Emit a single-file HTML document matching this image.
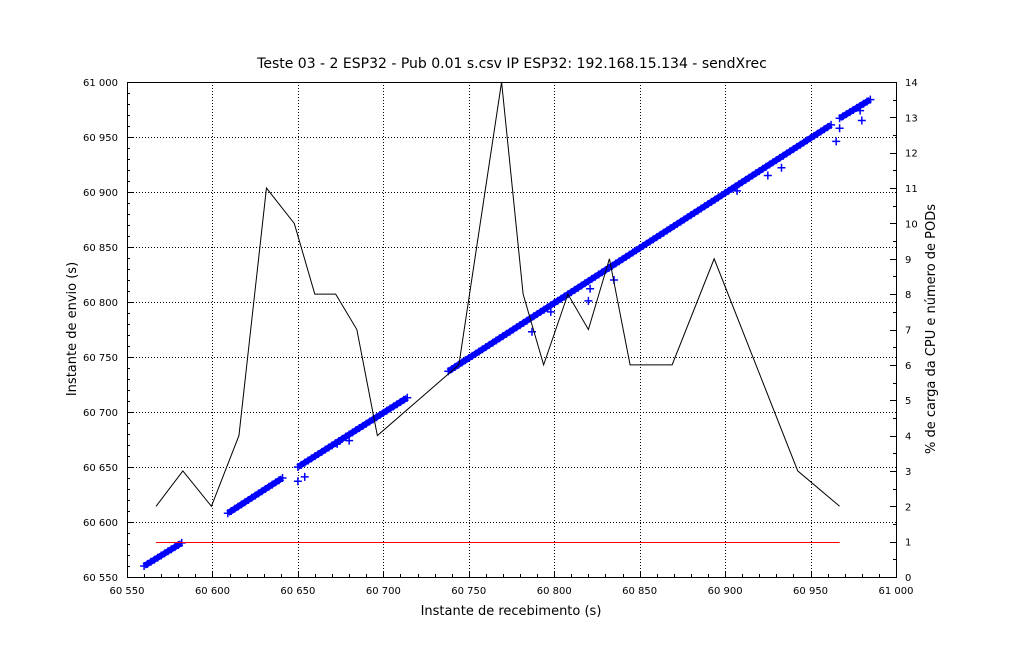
<!DOCTYPE html>
<html><head><meta charset="utf-8"><style>
body{margin:0;background:#fff;}
svg{display:block;font-family:"DejaVu Sans","Liberation Sans",sans-serif;}
</style></head><body>
<svg id="c" width="1024" height="660"></svg>
<script>
const xTicks=[60550,60600,60650,60700,60750,60800,60850,60900,60950,61000];
const xTickLabels=["60 550","60 600","60 650","60 700","60 750","60 800","60 850","60 900","60 950","61 000"];
const yTicks=[60550,60600,60650,60700,60750,60800,60850,60900,60950,61000];
const yTickLabels=["60 550","60 600","60 650","60 700","60 750","60 800","60 850","60 900","60 950","61 000"];
const y2Ticks=[0,1,2,3,4,5,6,7,8,9,10,11,12,13,14];
// blue send/receive segments
const segRecvStart=[60560,60609,60650,60738,60967];
const segSendStart=[60560,60608,60650,60737,60967];
const segRecvEnd=[60582,60641,60714,60962,60985];
const segSendEnd=[60581,60640,60713,60961,60984];
const outRecv=[60650,60654,60673,60680,60787,60798,60820,60821,60835,60907,60925,60933,60965,60967,60980,60979];
const outSend=[60637,60641,60671,60674,60773,60791,60801,60812,60820,60901,60915,60922,60946,60958,60965,60974];
// CPU line
const cpuX=[60567,60582.7,60599.4,60615.5,60631.6,60647.9,60659.9,60672.1,60684.5,60696.5,60744.2,60769.2,60781.8,60793.8,60808,60820,60832.3,60844.4,60869,60893.6,60942.5,60967];
const cpuY=[2,3,2,4,11,10,8,8,7,4,6,14,8,6,8,7,9,6,6,9,3,2];
// PODs line
const podX=[60567,60967];
const podY=[1,1];

const L=127,R=896,T=82,B=577;
const sx=v=>L+(v-60550)/(450)*(R-L);
const sy=v=>B-(v-60550)/450*(B-T);
const sy2=v=>B-v/14*(B-T);
const svg=document.getElementById('c');
const NS='http://www.w3.org/2000/svg';
function mk(tag,attrs,parent){const e=document.createElementNS(NS,tag);for(const k in attrs)e.setAttribute(k,attrs[k]);(parent||svg).appendChild(e);return e;}

xTicks.forEach((v,i)=>{if(i>0&&i<xTicks.length-1){const g=mk('line',{x1:Math.round(sx(v))+0.5,x2:Math.round(sx(v))+0.5,y1:T,y2:B,stroke:'#000','stroke-width':1,'stroke-dasharray':'1,2'});

}});
yTicks.forEach((v,i)=>{if(i>0&&i<yTicks.length-1){const g=mk('line',{x1:L,x2:R,y1:Math.round(sy(v))+0.5,y2:Math.round(sy(v))+0.5,stroke:'#000','stroke-width':1,'stroke-dasharray':'1,2'});

}});
const fr=mk('rect',{x:L+0.5,y:T+0.5,width:R-L,height:B-T,fill:'none',stroke:'#000','stroke-width':1});



for(let v=60550;v<=61000;v+=10){const maj=(v%50===0);const px=Math.round(sx(v))+0.5;mk('line',{x1:px,x2:px,y1:B,y2:B-(maj?6:3),stroke:'#000'});}
xTicks.forEach((v,i)=>{const t=mk('text',{x:sx(v),y:B+17,'font-size':10,'text-anchor':'middle'});t.textContent=xTickLabels[i];

});
for(let v=60550;v<=61000;v+=10){const maj=(v%50===0);const py=Math.round(sy(v))+0.5;mk('line',{x1:L,x2:L+(maj?6:3),y1:py,y2:py,stroke:'#000'});}
yTicks.forEach((v,i)=>{const t=mk('text',{x:L-9,y:sy(v)+4,'font-size':10,'text-anchor':'end'});t.textContent=yTickLabels[i];

});
for(let v=0;v<=14;v+=0.5){const maj=(v%1===0);const py=Math.round(sy2(v))+0.5;mk('line',{x1:R,x2:R-(maj?6:3),y1:py,y2:py,stroke:'#000'});}
y2Ticks.forEach(v=>{const t=mk('text',{x:R+9,y:sy2(v)+4,'font-size':10});t.textContent=v;

});

const blue=mk('g',{});


segRecvStart.forEach((x0,i)=>{
  const x1=sx(x0),y1=sy(segSendStart[i]),x2=sx(segRecvEnd[i]),y2=sy(segSendEnd[i]);
  const l=mk('line',{x1:x1,y1:y1,x2:x2,y2:y2,stroke:'#0000ff','stroke-width':6},blue);
  
  
  const n=Math.max(2,Math.round((segRecvEnd[i]-x0)/2));
  for(let k=0;k<=n;k++){const cx=x1+(x2-x1)*k/n,cy=y1+(y2-y1)*k/n;
    mk('path',{d:`M${cx-4},${cy}h8M${cx},${cy-4}v8`,stroke:'#0000ff','stroke-width':1.5},blue);}
});
outRecv.forEach((x,i)=>{const cx=sx(x),cy=sy(outSend[i]);
  const p=mk('path',{d:`M${cx-4},${cy}h8M${cx},${cy-4}v8`,stroke:'#0000ff','stroke-width':1.5},blue);
  
  });

const cpu=mk('polyline',{points:cpuX.map((x,i)=>sx(x)+','+sy2(cpuY[i])).join(' '),fill:'none',stroke:'#000','stroke-width':1});


const pod=mk('polyline',{points:podX.map((x,i)=>sx(x)+','+(Math.round(sy2(podY[i]))+0.5)).join(' '),fill:'none',stroke:'#ff0000','stroke-width':1});



const tt=mk('text',{x:512,y:68,'font-size':14,'text-anchor':'middle'});tt.textContent='Teste 03 - 2 ESP32 - Pub 0.01 s.csv IP ESP32: 192.168.15.134 - sendXrec';


const xl=mk('text',{x:511,y:615,'font-size':13,'text-anchor':'middle'});xl.textContent='Instante de recebimento (s)';


const yl=mk('text',{x:0,y:0,'font-size':13,'text-anchor':'middle',transform:'translate(76,329) rotate(-90)'});yl.textContent='Instante de envio (s)';


const y2l=mk('text',{x:0,y:0,'font-size':13,'text-anchor':'middle',transform:'translate(935,329) rotate(-90)'});y2l.textContent='% de carga da CPU  e número de PODs';


</script>
</body></html>
